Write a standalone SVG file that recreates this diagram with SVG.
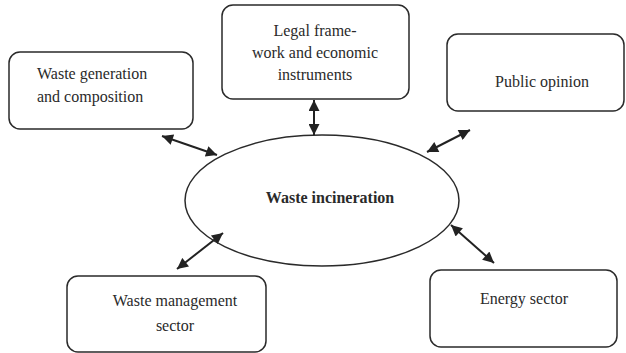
<svg xmlns="http://www.w3.org/2000/svg" width="626" height="353" viewBox="0 0 626 353">
<style>
.box{fill:#fff;stroke:#2a2a2a;stroke-width:1.5}
.t{font-family:"Liberation Serif","DejaVu Serif",serif;font-size:16px;fill:#2a2a2a}
.c{text-anchor:middle}
.conn{stroke:#222;stroke-width:2;fill:none;marker-start:url(#ah);marker-end:url(#ah)}
</style>
<defs>
<marker id="ah" viewBox="0 0 10 10" refX="10" refY="5" markerWidth="6.5" markerHeight="5.5" orient="auto-start-reverse" markerUnits="strokeWidth">
<path d="M0,0 L10,5 L0,10 z" fill="#222"/>
</marker>
</defs>
<rect width="626" height="353" fill="#fff"/>
<g id="gen"><rect class="box" x="9" y="52" width="184" height="77" rx="11"/>
<text class="t" x="37" y="79">Waste generation</text>
<text class="t" x="37" y="102">and composition</text></g>
<g id="legal"><rect class="box" x="222" y="5" width="187" height="94" rx="11"/>
<text class="t c" x="315" y="36">Legal frame-</text>
<text class="t c" x="315" y="58">work and economic</text>
<text class="t c" x="315" y="80">instruments</text></g>
<g id="public"><rect class="box" x="447" y="34" width="177" height="77" rx="11"/>
<text class="t c" x="542" y="87">Public opinion</text></g>
<g id="mgmt"><rect class="box" x="67" y="276" width="199" height="76" rx="11"/>
<text class="t c" x="175" y="306">Waste management</text>
<text class="t c" x="175" y="331">sector</text></g>
<g id="energy"><rect class="box" x="430" y="270" width="187" height="77" rx="11"/>
<text class="t c" x="524" y="304">Energy sector</text></g>
<g id="center"><ellipse class="box" cx="322" cy="200.5" rx="137" ry="65.5"/>
<text class="t c" x="330" y="203" font-weight="bold">Waste incineration</text></g>
<g id="connectors">
<line class="conn" x1="162" y1="136" x2="217" y2="155"/>
<line class="conn" x1="314" y1="100" x2="314" y2="135"/>
<line class="conn" x1="470" y1="130" x2="427" y2="152"/>
<line class="conn" x1="177" y1="269" x2="223" y2="233"/>
<line class="conn" x1="451" y1="225" x2="494" y2="263"/>
</g>
</svg>
